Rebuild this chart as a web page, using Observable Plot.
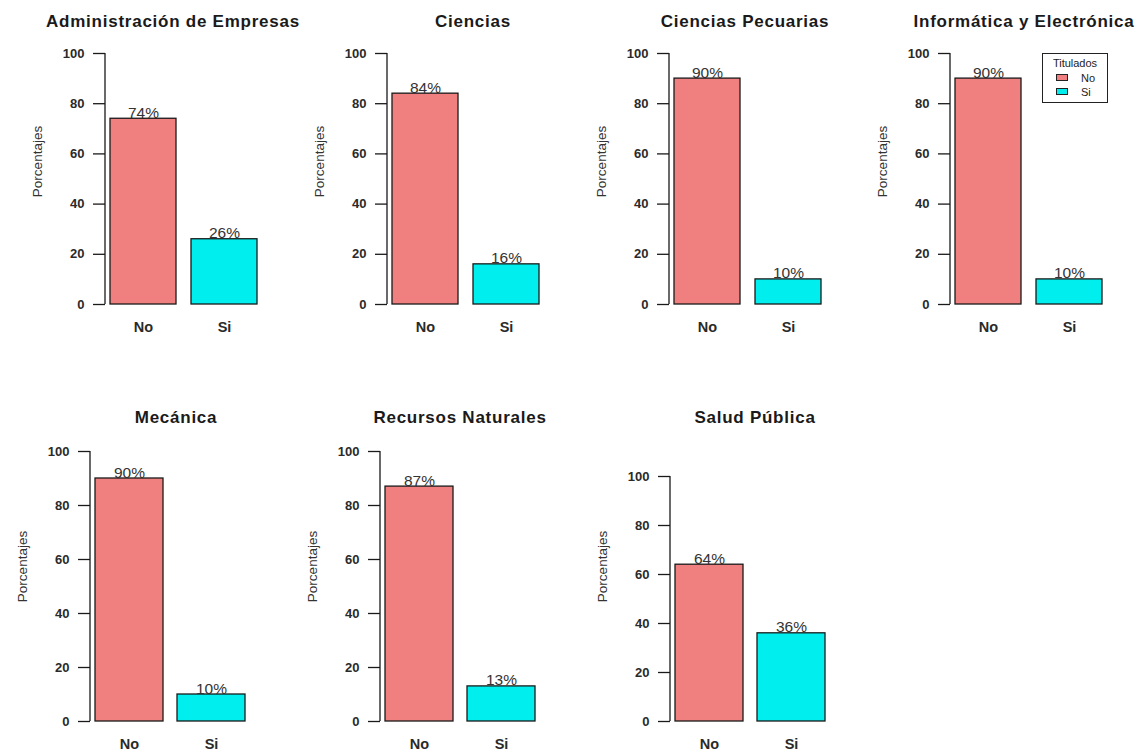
<!DOCTYPE html>
<html><head><meta charset="utf-8">
<script src="https://cdn.jsdelivr.net/npm/d3@7"></script>
<script src="https://cdn.jsdelivr.net/npm/@observablehq/plot@0.6"></script>
<style>
html,body{margin:0;padding:0;background:#fff;}
#root{position:relative;width:1138px;height:753px;overflow:hidden;font-family:"Liberation Sans",Arial,sans-serif;}
.panel{position:absolute;}
.title{position:absolute;font-weight:bold;font-size:17px;letter-spacing:0.75px;line-height:18px;color:#1a1a1a;white-space:nowrap;transform:translateX(-50%);}
.legend{position:absolute;border:1.4px solid #222;box-sizing:border-box;background:#fff;font-size:11px;color:#222;}
.legend .lt{position:absolute;left:0;right:0;text-align:center;top:3px;line-height:12px;}
.legend .sw{position:absolute;width:12px;height:7px;border:1.3px solid #222;box-sizing:border-box;}
.legend .lab{position:absolute;line-height:12px;}
.panel svg g[aria-label="y-axis tick label"], .panel svg g[aria-label="x-axis tick label"]{font-weight:bold;}
</style></head><body><div id="root"></div>
<script>
// ---- data ----
const carreras = ["Administración de Empresas", "Ciencias", "Ciencias Pecuarias", "Informática y Electrónica", "Mecánica", "Recursos Naturales", "Salud Pública"];
const titulados = ["No", "Si"];
const pctNo = [74, 84, 90, 90, 90, 87, 64];
const pctSi = [26, 16, 10, 10, 10, 13, 36];
const yTicks = [0, 20, 40, 60, 80, 100];
const colores = ["#F08080", "#00EEEE"];
const yLabel = "Porcentajes";
const legendTitle = "Titulados";

// ---- layout (page pixels) ----
const layout = [
  {axisX: 104.5, y100: 53,  y0: 304, bar: 66, gap: 15,   titleX: 173,  titleY: 22,  labelY: 161},
  {axisX: 386.5, y100: 53,  y0: 304, bar: 66, gap: 15,   titleX: 473,  titleY: 22,  labelY: 161},
  {axisX: 668.5, y100: 53,  y0: 304, bar: 66, gap: 15,   titleX: 745,  titleY: 22,  labelY: 161},
  {axisX: 950,   y100: 53,  y0: 304, bar: 66, gap: 15,   titleX: 1024, titleY: 22,  labelY: 161},
  {axisX: 90,    y100: 451, y0: 721, bar: 68, gap: 14.5, titleX: 176,  titleY: 418, labelY: 566},
  {axisX: 380,   y100: 451, y0: 721, bar: 68, gap: 14.5, titleX: 460,  titleY: 418, labelY: 566},
  {axisX: 670,   y100: 476, y0: 721, bar: 68, gap: 14.5, titleX: 755,  titleY: 418, labelY: 566}
];

const root = document.getElementById("root");
const ML = 95, MT = 12, MB = 40, W = 200;

carreras.forEach((name, i) => {
  const lo = layout[i];
  const data = titulados.map((t, j) => ({t, v: j === 0 ? pctNo[i] : pctSi[i]}));
  const H = (lo.y0 - lo.y100) + MT + MB;
  const x0 = ML + 5;
  const plot = Plot.plot({
    width: W, height: H,
    marginLeft: ML, marginTop: MT, marginBottom: MB, marginRight: 10,
    x: {domain: titulados, range: [x0, x0 + 2 * lo.bar + lo.gap], paddingInner: lo.gap / (lo.bar + lo.gap), paddingOuter: 0},
    y: {domain: [0, 100]},
    color: {domain: titulados, range: colores},
    style: {fontFamily: '"Liberation Sans", Arial, sans-serif', fontSize: "13px", color: "#1a1a1a", background: "transparent", overflow: "visible"},
    marks: [
      Plot.barY(data, {x: "t", y: "v", fill: "t", stroke: "#1a1a1a", strokeWidth: 1.3}),
      Plot.text(data, {x: "t", y: "v", text: d => `${d.v}%`, lineAnchor: "bottom", dy: -1, fontSize: 15.5, fill: "#333"}),
      Plot.axisY({ticks: yTicks, tickSize: 12, tickPadding: 9, label: null, fontSize: 13, stroke: "#1a1a1a", strokeWidth: 1.3, fill: "#2a2a2a"}),
      Plot.axisX({tickSize: 0, tickPadding: 17, label: null, fontSize: 14.5, fill: "#2a2a2a"}),
      Plot.text([yLabel], {text: d => d, frameAnchor: "left", textAnchor: "middle", rotate: -90, dx: -68, dy: lo.labelY - (lo.y100 + lo.y0) / 2, fontSize: 13.5, fill: "#333"}),
      (index, scales, values, dims) => d3.create("svg:line")
        .attr("x1", dims.marginLeft).attr("x2", dims.marginLeft)
        .attr("y1", scales.y(0)).attr("y2", scales.y(100))
        .attr("stroke", "#1a1a1a").attr("stroke-width", 1.3).node()
    ]
  });
  d3.select(plot).selectAll('g[aria-label$="tick label"]').attr("font-weight", "bold");
  const wrap = document.createElement("div");
  wrap.className = "panel";
  wrap.style.left = (lo.axisX - ML) + "px";
  wrap.style.top = (lo.y100 - MT) + "px";
  wrap.appendChild(plot);
  root.appendChild(wrap);

  const t = document.createElement("div");
  t.className = "title";
  t.textContent = name;
  t.style.left = lo.titleX + "px";
  t.style.top = (lo.titleY - 9) + "px";
  root.appendChild(t);
});

// legend (inside 4th panel, top right)
const lg = document.createElement("div");
lg.className = "legend";
Object.assign(lg.style, {left: "1042px", top: "53px", width: "66px", height: "50px"});
const lt = document.createElement("div");
lt.className = "lt"; lt.textContent = legendTitle; lg.appendChild(lt);
titulados.forEach((t, j) => {
  const sw = document.createElement("div");
  sw.className = "sw";
  Object.assign(sw.style, {left: "13px", top: (20 + j * 14) + "px", background: colores[j]});
  lg.appendChild(sw);
  const lab = document.createElement("div");
  lab.className = "lab"; lab.textContent = t;
  Object.assign(lab.style, {left: "38px", top: (17.5 + j * 14) + "px"});
  lg.appendChild(lab);
});
root.appendChild(lg);
</script>
</body></html>
